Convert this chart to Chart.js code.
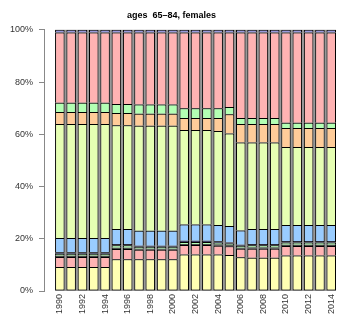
<!DOCTYPE html>
<html>
<head>
<meta charset="utf-8">
<script src="https://cdn.jsdelivr.net/npm/chart.js@4/dist/chart.umd.min.js"></script>
<style>
  body { margin: 0; background: #fff; }
</style>
</head>
<body>
<canvas id="chart" width="353" height="324"></canvas>
<script>
const years = [1990, 1991, 1992, 1993, 1994, 1995, 1996, 1997, 1998, 1999, 2000, 2001, 2002,
  2003, 2004, 2005, 2006, 2007, 2008, 2009, 2010, 2011, 2012, 2013, 2014];
const tickYears = [1990, 1992, 1994, 1996, 1998, 2000, 2002, 2004, 2006, 2008, 2010, 2012, 2014];

// shares in percent, bottom segment first
const yellowShare = [9.2, 9.2, 9.2, 9.2, 9.2, 12.2, 12.2, 12.2, 12.2, 12.2, 12.2, 14.0, 14.0,
  14.0, 14.0, 13.8, 12.9, 12.7, 12.7, 12.7, 13.6, 13.6, 13.6, 13.6, 13.6];
const pinkLowShare = [3.8, 3.8, 3.8, 3.8, 3.8, 3.9, 3.9, 3.6, 3.6, 3.6, 3.6, 3.6, 3.6,
  3.6, 3.3, 3.3, 3.3, 3.5, 3.5, 3.5, 3.6, 3.6, 3.6, 3.6, 3.6];
const darkShare = [0.5, 0.5, 0.5, 0.5, 0.5, 0.5, 0.5, 0.4, 0.4, 0.4, 0.4, 0.4, 0.4,
  0.4, 0.5, 0.4, 0.4, 0.5, 0.5, 0.5, 0.5, 0.5, 0.5, 0.5, 0.5];
const greenLowShare = [0.8, 0.8, 0.8, 0.8, 0.8, 0.9, 0.9, 0.7, 0.7, 0.7, 0.7, 0.8, 0.8,
  0.8, 0.7, 0.7, 0.7, 0.8, 0.8, 0.8, 0.9, 0.9, 0.9, 0.9, 0.9];
const navyShare = [0.5, 0.5, 0.5, 0.5, 0.5, 0.5, 0.5, 0.4, 0.4, 0.4, 0.4, 0.4, 0.4,
  0.4, 0.5, 0.4, 0.4, 0.5, 0.5, 0.5, 0.5, 0.5, 0.5, 0.5, 0.5];
const blueShare = [5.5, 5.5, 5.5, 5.5, 5.5, 5.7, 5.7, 5.8, 5.8, 5.8, 5.8, 6.3, 6.3,
  6.3, 6.3, 6.3, 5.5, 5.7, 5.7, 5.7, 6.2, 6.2, 6.2, 6.2, 6.2];
const limeShare = [43.6, 43.6, 43.6, 43.6, 43.6, 39.8, 39.8, 40.2, 40.2, 40.2, 40.2, 36.1, 36.1,
  36.1, 36.0, 35.4, 33.7, 33.2, 33.2, 33.2, 29.8, 29.8, 29.8, 29.8, 29.8];
const orangeShare = [4.6, 4.6, 4.6, 4.6, 4.6, 4.6, 4.6, 4.6, 4.6, 4.6, 4.6, 4.6, 4.6,
  4.6, 4.9, 7.4, 7.0, 7.0, 7.0, 7.0, 7.3, 7.3, 7.3, 7.3, 7.3];
const greenShare = [3.6, 3.6, 3.6, 3.6, 3.6, 3.5, 3.5, 3.5, 3.5, 3.5, 3.5, 3.8, 3.8,
  3.8, 3.8, 2.7, 2.3, 2.3, 2.3, 2.3, 2.0, 2.0, 2.0, 2.0, 2.0];
const pinkShare = [26.9, 26.9, 26.9, 26.9, 26.9, 27.4, 27.4, 27.6, 27.6, 27.6, 27.6, 29.0, 29.0,
  29.0, 29.0, 28.6, 32.8, 32.8, 32.8, 32.8, 34.6, 34.6, 34.6, 34.6, 34.6];
const purpleShare = [1.0, 1.0, 1.0, 1.0, 1.0, 1.0, 1.0, 1.0, 1.0, 1.0, 1.0, 1.0, 1.0,
  1.0, 1.0, 1.0, 1.0, 1.0, 1.0, 1.0, 1.0, 1.0, 1.0, 1.0, 1.0];

const series = [
  { data: yellowShare, color: "#FFFFB3" },
  { data: pinkLowShare, color: "#FFB3B3" },
  { data: darkShare, color: "#404040" },
  { data: greenLowShare, color: "#B3FFB3" },
  { data: navyShare, color: "#333366" },
  { data: blueShare, color: "#99CCFF" },
  { data: limeShare, color: "#E6FFB3" },
  { data: orangeShare, color: "#FFCC99" },
  { data: greenShare, color: "#B3FFB3" },
  { data: pinkShare, color: "#FFB3B3" },
  { data: purpleShare, color: "#9999DD" },
];

// grey strip behind the bars, shows up in the gaps
const gapFill = {
  id: "gapFill",
  beforeDatasetsDraw(chart) {
    const bars = chart.getDatasetMeta(0).data;
    if (!bars.length) return;
    const first = bars[0];
    const last = bars[bars.length - 1];
    const { top, bottom } = chart.chartArea;
    const left = first.x - first.width / 2;
    const right = last.x + last.width / 2;
    const ctx = chart.ctx;
    ctx.save();
    ctx.fillStyle = "#999999";
    ctx.fillRect(left, top, right - left, bottom - top);
    ctx.restore();
  },
};

const ctx = document.getElementById("chart").getContext("2d");
new Chart(ctx, {
  type: "bar",
  data: {
    labels: years,
    datasets: series.map((s, i) => ({
      data: s.data,
      backgroundColor: s.color,
      borderColor: "#000000",
      borderWidth: 1,
      borderSkipped: i === 0 ? false : "start",
      categoryPercentage: 1,
      barPercentage: 0.84,
    })),
  },
  options: {
    responsive: false,
    devicePixelRatio: 1,
    animation: false,
    layout: { padding: { left: 0, right: 10, top: 0, bottom: 0 } },
    plugins: {
      legend: { display: false },
      tooltip: { enabled: false },
      title: {
        display: true,
        text: "ages  65\u201384, females",
        color: "#000",
        font: { family: "Liberation Sans", size: 9, weight: "bold" },
        padding: { top: 10, bottom: 9 },
      },
    },
    scales: {
      x: {
        type: "linear",
        stacked: true,
        offset: false,
        min: 1988.6,
        max: 2015.04,
        grid: { display: false, drawTicks: false },
        border: { display: false },
        afterBuildTicks: (scale) => {
          scale.ticks = tickYears.map((v) => ({ value: v }));
        },
        afterFit: (scale) => {
          scale.height = 33;
        },
        ticks: {
          autoSkip: false,
          minRotation: 90,
          maxRotation: 90,
          padding: 3,
          color: "#333",
          font: { family: "Liberation Sans", size: 9 },
          callback: (value) => String(value),
        },
      },
      y: {
        stacked: true,
        min: 0,
        max: 100,
        grid: { drawOnChartArea: false, tickLength: 5, color: "#888" },
        border: { display: true, color: "#888" },
        afterFit: (scale) => {
          scale.width = 44;
        },
        ticks: {
          stepSize: 20,
          padding: 6,
          color: "#333",
          font: { family: "Liberation Sans", size: 9 },
          callback: (value) => value + "%",
        },
      },
    },
  },
  plugins: [gapFill],
});
</script>
</body>
</html>
